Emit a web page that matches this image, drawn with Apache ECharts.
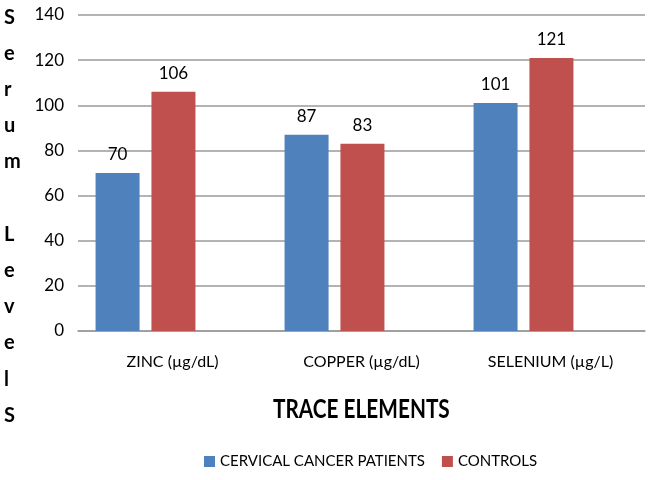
<!DOCTYPE html>
<html>
<head>
<meta charset="utf-8">
<script src="https://cdn.jsdelivr.net/npm/echarts@6/dist/echarts.min.js"></script>
<style>
  html, body { margin: 0; padding: 0; background: #fff; }
  #chart { width: 658px; height: 480px; }
</style>
</head>
<body>
<div id="chart"></div>
<script>
const categories = ['ZINC (µg/dL)', 'COPPER (µg/dL)', 'SELENIUM (µg/L)']
const patients = [70, 87, 101]
const controls = [106, 83, 121]
const seriesNames = ['CERVICAL CANCER PATIENTS', 'CONTROLS']
const yTitle = 'Serum LevelS'
const xTitle = 'TRACE ELEMENTS'

const font = 'Lato, "Open Sans", sans-serif'
const chart = echarts.init(document.getElementById('chart'))

// vertical stacked letters for the y-axis title
const yTitleText = yTitle.split('').map((c) => (c === ' ' ? '' : c)).join('\n')

const option = {
  animation: false,
  textStyle: { fontFamily: font },
  legend: {
    data: seriesNames,
    left: 199,
    top: 449,
    icon: 'rect',
    itemWidth: 11,
    itemHeight: 11,
    itemGap: 17,
    textStyle: { fontSize: 15, color: '#000', fontFamily: font },
  },
  graphic: [
    {
      type: 'text',
      left: 4,
      top: -1,
      style: {
        text: yTitleText,
        fontFamily: font,
        fontWeight: 'bold',
        fontSize: 20,
        lineHeight: 36.2,
        fill: '#000',
        align: 'center',
      },
    },
    {
      type: 'text',
      x: 273,
      y: 396,
      scaleX: 0.77,
      style: {
        text: xTitle,
        fontFamily: font,
        fontWeight: 'bold',
        fontSize: 27,
        fill: '#000',
      },
    },
  ],
  grid: [
    { left: 78, right: 13, top: 15, bottom: 149 },
    { left: 51, right: 40, top: 15, bottom: 149 },
  ],
  xAxis: [
    {
      type: 'category',
      gridIndex: 0,
      data: categories,
      axisLine: { lineStyle: { color: '#9a9a9a', width: 1.5 } },
      axisTick: { show: false },
      axisLabel: { fontSize: 16, color: '#000', margin: 23 },
    },
    {
      type: 'category',
      gridIndex: 1,
      data: categories,
      show: false,
    },
  ],
  yAxis: [
    {
      type: 'value',
      gridIndex: 0,
      min: 0,
      max: 140,
      interval: 20,
      axisLine: { show: false },
      axisTick: { show: false },
      axisLabel: { fontSize: 17, color: '#000', margin: 14 },
      splitLine: { lineStyle: { color: '#9a9a9a', width: 1.5 } },
    },
    {
      type: 'value',
      gridIndex: 1,
      min: 0,
      max: 140,
      show: false,
      splitLine: { show: false },
    },
  ],
  series: [
    {
      name: seriesNames[0],
      type: 'bar',
      xAxisIndex: 1,
      yAxisIndex: 1,
      data: patients,
      barWidth: 44,
      barGap: '27%',
      itemStyle: { color: '#4F81BD' },
      label: { show: true, position: 'top', distance: 10, fontSize: 17, color: '#000' },
    },
    {
      name: seriesNames[1],
      type: 'bar',
      xAxisIndex: 1,
      yAxisIndex: 1,
      data: controls,
      barWidth: 44,
      barGap: '27%',
      itemStyle: { color: '#C0504D' },
      label: { show: true, position: 'top', distance: 10, fontSize: 17, color: '#000' },
    },
  ],
}

chart.setOption(option)
</script>
</body>
</html>
